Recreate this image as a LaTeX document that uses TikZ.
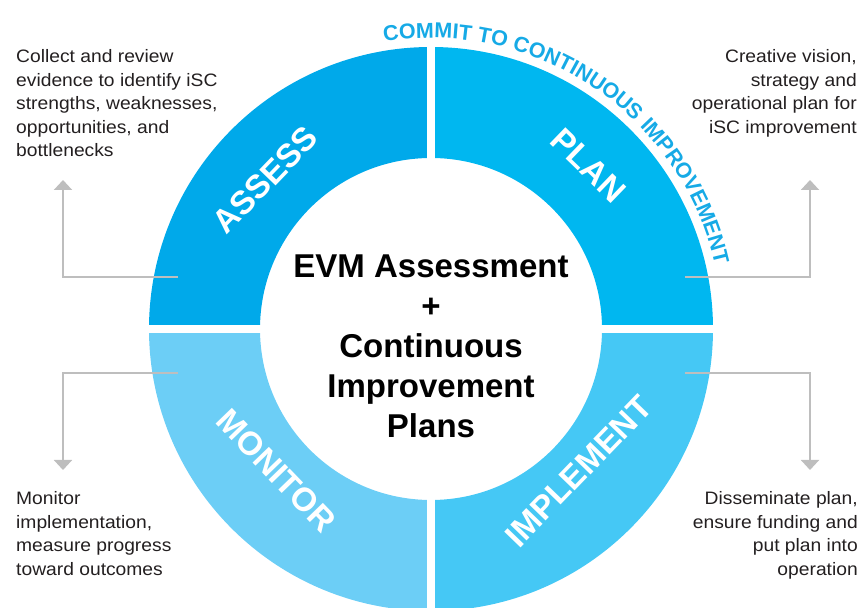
\documentclass[tikz,border=0pt]{standalone}
\usepackage{fontspec}
\setmainfont{Liberation Sans}
\newfontfamily\notefont[FakeStretch=1.07]{Liberation Sans}
\usetikzlibrary{arrows.meta,decorations.text}

\definecolor{assessblue}{RGB}{0,169,234}
\definecolor{planblue}{RGB}{0,183,240}
\definecolor{implblue}{RGB}{69,200,245}
\definecolor{monitorblue}{RGB}{108,206,246}
\definecolor{commitblue}{RGB}{22,170,230}
\definecolor{pointergray}{RGB}{190,190,190}
\definecolor{notetext}{RGB}{35,31,32}

\tikzset{
  ringlabel/.style={text=white, inner sep=0pt, font=\fontsize{33}{33}\selectfont\bfseries},
  sidenote/.style={text=notetext, inner sep=0pt, font=\notefont\fontsize{18}{23.5}\selectfont},
  centretext/.style={text=black, inner sep=0pt, align=center, font=\fontsize{33}{40}\selectfont\bfseries},
  pointer/.style={draw=pointergray, line width=2pt, -{Triangle[width=18pt,length=10pt]}},
}

\begin{document}
\begin{tikzpicture}

\newcommand\RADOUT{282pt}
\newcommand\RADIN{171pt}
\newcommand\RADTXT{291pt}

\useasboundingbox (0,0) rectangle (861pt,607pt); %% page

\coordinate (ctr) at (431pt,278pt);

\begin{scope}[shift={(ctr)}]

%% four quarters of the ring
\fill[assessblue] (90:\RADOUT) arc[start angle=90, end angle=180, radius=\RADOUT]
  -- (180:\RADIN) arc[start angle=180, end angle=90, radius=\RADIN] -- cycle;
\fill[planblue] (0:\RADOUT) arc[start angle=0, end angle=90, radius=\RADOUT]
  -- (90:\RADIN) arc[start angle=90, end angle=0, radius=\RADIN] -- cycle;
\fill[implblue] (-90:\RADOUT) arc[start angle=-90, end angle=0, radius=\RADOUT]
  -- (0:\RADIN) arc[start angle=0, end angle=-90, radius=\RADIN] -- cycle;
\fill[monitorblue] (180:\RADOUT) arc[start angle=180, end angle=270, radius=\RADOUT]
  -- (270:\RADIN) arc[start angle=270, end angle=180, radius=\RADIN] -- cycle;

%% white cuts
\draw[white, line width=8pt] (0, -\RADOUT-5pt) -- (0, \RADOUT+5pt);
\draw[white, line width=8pt] (-\RADOUT-5pt, 0) -- (\RADOUT+5pt, 0);

%%
\node[ringlabel, rotate=46]  (assess)    at (138:223pt)   {ASSESS};
\node[ringlabel, rotate=-44] (plan)      at (46:227pt)    {PLAN};
\node[ringlabel, rotate=46]  (implement) at (-44:205pt)   {IMPLEMENT};
\node[ringlabel, rotate=-46] (monitor)   at (222.5:210pt) {MONITOR};

%% curved heading over the top right
\path[decorate, decoration={text along path, text align=center,
  text={|\fontsize{21.5}{21.5}\selectfont\bfseries\color{commitblue}|COMMIT TO CONTINUOUS IMPROVEMENT}}]
  (100:\RADTXT) arc[start angle=100, end angle=12, radius=\RADTXT];

%% base = last line
\node[centretext, anchor=base] (evm) at (0, -109pt)
  {EVM Assessment\\+\\Continuous\\Improvement\\Plans};

\end{scope}

%% notes at the corners (base = last line)
\node[sidenote, align=left, anchor=base west] (assessnote) at (16pt, 450pt)
  {Collect and review\\evidence to identify iSC\\strengths, weaknesses,\\opportunities, and\\bottlenecks};
\node[sidenote, align=right, anchor=base east] (plannote) at (857pt, 473.5pt)
  {Creative vision,\\strategy and\\operational plan for\\iSC improvement};
\node[sidenote, align=left, anchor=base west] (monitornote) at (16pt, 31.5pt)
  {Monitor\\implementation,\\measure progress\\toward outcomes};
\node[sidenote, align=right, anchor=base east] (implnote) at (858pt, 31.5pt)
  {Disseminate plan,\\ensure funding and\\put plan into\\operation};

%% pointers
\coordinate (assessfrom) at (178pt, 330pt);
\coordinate (assesstip)  at (63pt, 427pt);
\coordinate (planfrom)   at (685pt, 330pt);
\coordinate (plantip)    at (810pt, 427pt);
\coordinate (monfrom)    at (178pt, 234pt);
\coordinate (montip)     at (63pt, 137pt);
\coordinate (implfrom)   at (685pt, 234pt);
\coordinate (impltip)    at (810pt, 137pt);

\draw[pointer] (assessfrom) -| (assesstip);
\draw[pointer] (planfrom) -| (plantip);
\draw[pointer] (monfrom) -| (montip);
\draw[pointer] (implfrom) -| (impltip);

\end{tikzpicture}
\end{document}
